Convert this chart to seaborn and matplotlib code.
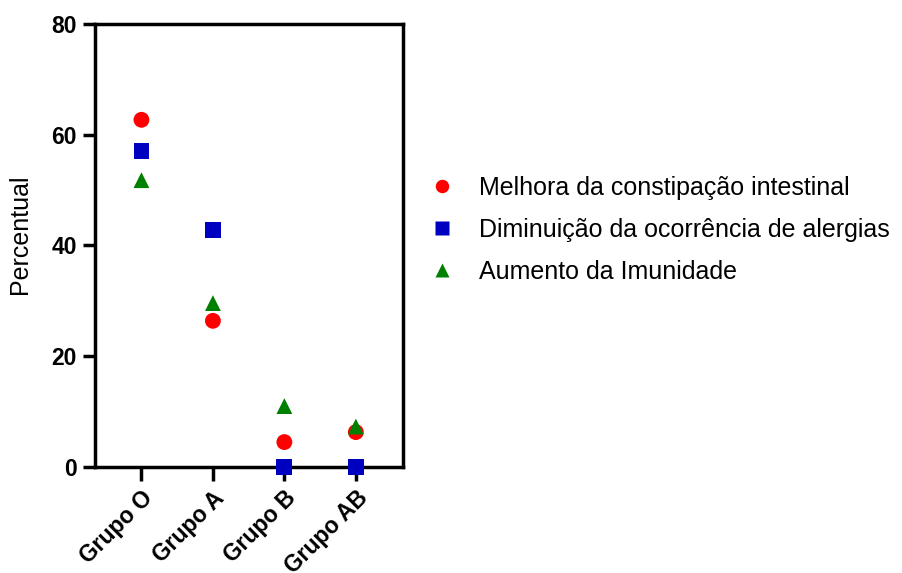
import matplotlib
matplotlib.use("Agg")
import matplotlib.pyplot as plt
import seaborn as sns
import pandas as pd

categories = ["Grupo O", "Grupo A", "Grupo B", "Grupo AB"]
constipacao = [62.7, 26.4, 4.5, 6.3]
alergias = [57.1, 42.8, 0.0, 0.0]
imunidade = [51.8, 29.6, 11.0, 7.3]
series_names = ["Melhora da constipação intestinal",
                "Diminuição da ocorrência de alergias",
                "Aumento da Imunidade"]
yticks = [0, 20, 40, 60, 80]

rows = []
for name, vals in zip(series_names, [constipacao, alergias, imunidade]):
    for c, v in zip(categories, vals):
        rows.append({"Grupo": c, "Percentual": v, "Serie": name})
df = pd.DataFrame(rows)
df["x"] = df["Grupo"].map({c: i for i, c in enumerate(categories)})

sns.set_style("ticks")
plt.rcParams["font.family"] = ["Liberation Sans", "DejaVu Sans"]
for k in ["text.color", "axes.labelcolor", "xtick.color", "ytick.color", "axes.edgecolor"]:
    plt.rcParams[k] = "black"

fig = plt.figure(figsize=(9.03, 5.73), dpi=100)
ax = fig.add_axes([95/903, 1-467/573, (403-95)/903, (467-24)/573])

palette = {series_names[0]: "#ff0000", series_names[1]: "#0000c0", series_names[2]: "#008000"}
markers = {series_names[0]: "o", series_names[1]: "s", series_names[2]: "^"}
sns.scatterplot(data=df, x="x", y="Percentual", hue="Serie", style="Serie",
                palette=palette, markers=markers, s=130, edgecolor="none",
                ax=ax, clip_on=False, zorder=5)

ax.set_xlim(-0.65, 3.66)
ax.set_ylim(0, 80)
ax.set_xticks(range(len(categories)))
ax.set_xticklabels(categories, rotation=45, ha="right", rotation_mode="anchor",
                   fontsize=16.5, fontweight="bold")
ax.set_yticks(yticks)
ax.set_yticklabels([str(t) for t in yticks], fontsize=16.5, fontweight="bold")
ax.set_xlabel("")
ax.set_ylabel("Percentual", fontsize=18)
ax.yaxis.set_label_coords((32 - 95) / 308, (467 - 234) / 443)
for sp in ax.spines.values():
    sp.set_linewidth(2.5)
    sp.set_color("black")
ax.tick_params(axis="y", length=9, width=2.5, pad=4)
ax.tick_params(axis="x", length=10, width=2.5, pad=4)

h, l = ax.get_legend_handles_labels()
ax.legend(h, l, loc="upper left", bbox_to_anchor=(430/903, 1-176/573),
          bbox_transform=fig.transFigure, frameon=False, borderpad=0,
          borderaxespad=0, fontsize=18, markerscale=0.85, handletextpad=0.98,
          labelspacing=0.72, handlelength=1.0)

fig.savefig("out.png", dpi=100)
